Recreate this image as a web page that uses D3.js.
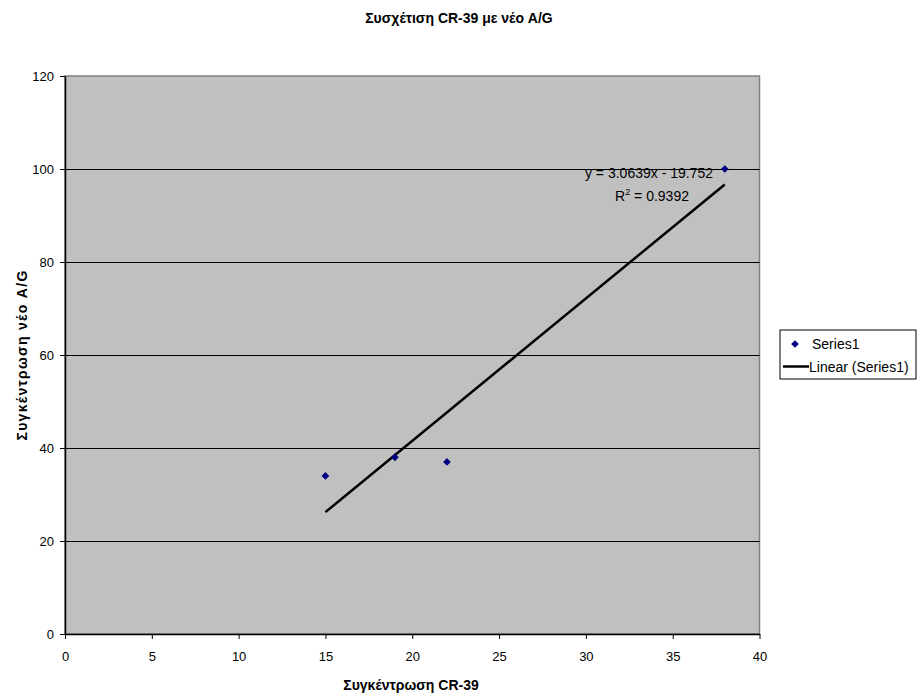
<!DOCTYPE html>
<html>
<head>
<meta charset="utf-8">
<script src="https://cdn.jsdelivr.net/npm/d3@7"></script>
<style>
  body { margin: 0; background: white; }
  text { font-family: "Liberation Sans", Arial, sans-serif; }
</style>
</head>
<body>
<script>
var w = 918;
var h = 697;

// data
var xValues = [15, 19, 22, 38];
var yValues = [34, 38, 37, 100];
var xTicks = [0, 5, 10, 15, 20, 25, 30, 35, 40];
var yTicks = [0, 20, 40, 60, 80, 100, 120];
var slope = 3.0639;
var intercept = -19.752;
var rSquared = "0.9392";
var chartTitle = "Συσχέτιση CR-39 με νέο A/G";
var xTitle = "Συγκέντρωση CR-39";
var yTitle = "Συγκέντρωση νέο A/G";

var plot = { left: 65, top: 76, right: 759.5, bottom: 634 };

var svg = d3.select("body").append("svg")
  .attr("width", w)
  .attr("height", h)
  .style("background-color", "white");

var x = d3.scaleLinear().domain([0, 40]).range([plot.left, plot.right]);
var y = d3.scaleLinear().domain([0, 120]).range([plot.bottom, plot.top]);

// plot area
svg.append("rect")
  .attr("x", plot.left)
  .attr("y", plot.top)
  .attr("width", plot.right - plot.left)
  .attr("height", plot.bottom - plot.top)
  .attr("fill", "#c0c0c0")
  .attr("stroke", "#808080")
  .attr("stroke-width", 1.5);

// gridlines
svg.selectAll(".grid")
  .data(yTicks.filter(function (d) { return d > 0 && d < 120; }))
  .join("line")
  .attr("class", "grid")
  .attr("x1", plot.left)
  .attr("x2", plot.right)
  .attr("y1", function (d) { return Math.round(y(d)) + 0.5; })
  .attr("y2", function (d) { return Math.round(y(d)) + 0.5; })
  .attr("stroke", "black")
  .attr("stroke-width", 1);

// axes
var xAxis = svg.append("g")
  .attr("transform", "translate(0," + plot.bottom + ")")
  .call(d3.axisBottom(x).tickValues(xTicks).tickSize(5).tickPadding(13).tickSizeOuter(0));
var yAxis = svg.append("g")
  .attr("transform", "translate(" + plot.left + ",0)")
  .call(d3.axisLeft(y).tickValues(yTicks).tickSize(5).tickPadding(6).tickSizeOuter(0));

[xAxis, yAxis].forEach(function (a) {
  a.selectAll("text")
    .attr("font-size", "13px")
    .attr("fill", "black")
    .style("font-family", "'Liberation Sans', Arial, sans-serif");
  a.selectAll("line").attr("stroke", "black");
  a.select(".domain").attr("stroke", "black").attr("stroke-width", 1.5);
});

// trendline
svg.append("line")
  .attr("x1", x(d3.min(xValues)))
  .attr("y1", y(slope * d3.min(xValues) + intercept))
  .attr("x2", x(d3.max(xValues)))
  .attr("y2", y(slope * d3.max(xValues) + intercept))
  .attr("stroke", "black")
  .attr("stroke-width", 2.5);

// points
var diamond = d3.symbol().type(d3.symbolDiamond2).size(38);
svg.selectAll(".pt")
  .data(xValues)
  .join("path")
  .attr("class", "pt")
  .attr("d", diamond)
  .attr("transform", function (d, i) {
    return "translate(" + x(d) + "," + y(yValues[i]) + ")";
  })
  .attr("fill", "#000080");

// equation label
svg.append("text")
  .attr("x", 649)
  .attr("y", 178)
  .attr("text-anchor", "middle")
  .attr("font-size", "14px")
  .text("y = " + slope + "x - " + Math.abs(intercept));
var r2 = svg.append("text")
  .attr("x", 652)
  .attr("y", 201)
  .attr("text-anchor", "middle")
  .attr("font-size", "14px");
r2.append("tspan").text("R");
r2.append("tspan").attr("dy", -6).attr("font-size", "9px").text("2");
r2.append("tspan").attr("dy", 6).text(" = " + rSquared);

// titles
svg.append("text")
  .attr("x", 459)
  .attr("y", 23)
  .attr("text-anchor", "middle")
  .attr("font-size", "14px")
  .attr("font-weight", "bold")
  .text(chartTitle);
svg.append("text")
  .attr("x", 411)
  .attr("y", 690)
  .attr("text-anchor", "middle")
  .attr("font-size", "14px")
  .attr("font-weight", "bold")
  .text(xTitle);
svg.append("text")
  .attr("transform", "translate(27,355) rotate(-90)")
  .attr("text-anchor", "middle")
  .attr("font-size", "14px")
  .attr("font-weight", "bold")
  .attr("letter-spacing", "1.3px")
  .text(yTitle);

// legend
var legend = svg.append("g").attr("transform", "translate(780,330)");
legend.append("rect")
  .attr("width", 136)
  .attr("height", 49)
  .attr("fill", "white")
  .attr("stroke", "black")
  .attr("stroke-width", 1);
legend.append("path")
  .attr("d", diamond)
  .attr("transform", "translate(15,14)")
  .attr("fill", "#000080");
legend.append("text")
  .attr("x", 32)
  .attr("y", 19)
  .attr("font-size", "14px")
  .text("Series1");
legend.append("line")
  .attr("x1", 3).attr("x2", 29)
  .attr("y1", 36.5).attr("y2", 36.5)
  .attr("stroke", "black")
  .attr("stroke-width", 2.5);
legend.append("text")
  .attr("x", 29)
  .attr("y", 42)
  .attr("font-size", "14px")
  .text("Linear (Series1)");
</script>
</body>
</html>
